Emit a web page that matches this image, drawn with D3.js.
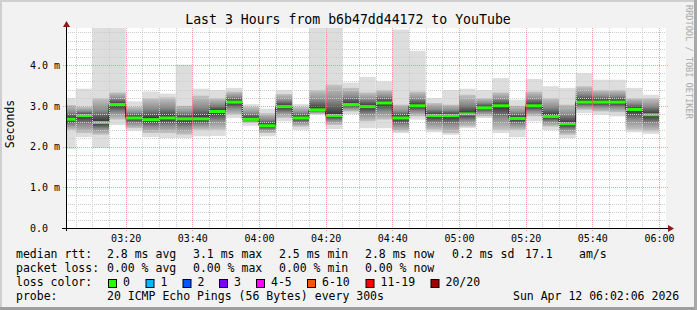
<!DOCTYPE html>
<html>
<head>
<meta charset="utf-8">
<script src="https://cdn.jsdelivr.net/npm/d3@7"></script>
<style>
  body { margin: 0; background: #f2f2f2; }
  svg text { font-family: "DejaVu Sans Mono", monospace; fill: #000; }
</style>
</head>
<body>
<div id="chart"></div>
<script>
// 5 minute bins, start time of each bin (first one is clipped by the 3h window)
var binStart = ["03:00","03:05","03:10","03:15","03:20","03:25","03:30","03:35","03:40","03:45",
  "03:50","03:55","04:00","04:05","04:10","04:15","04:20","04:25","04:30","04:35",
  "04:40","04:45","04:50","04:55","05:00","05:05","05:10","05:15","05:20","05:25",
  "05:30","05:35","05:40","05:45","05:50","05:55"];

// rtt in ms
var rttMin = [1.94,2.23,1.96,2.53,2.39,2.23,2.21,2.21,2.25,2.26,2.70,2.51,2.25,2.62,2.41,2.78,2.43,2.80,
  2.45,2.45,2.33,2.66,2.35,2.29,2.45,2.70,2.33,2.23,2.62,2.40,2.21,2.82,2.78,2.74,2.35,2.31];
var rttMax = [3.19,3.42,4.91,4.91,3.11,3.35,3.30,4.01,3.42,3.39,3.44,3.04,2.93,3.39,3.04,4.91,4.91,3.57,
  3.71,3.60,4.87,4.35,3.19,3.39,3.42,3.39,3.68,3.15,3.66,3.48,3.44,3.80,3.64,3.64,3.44,3.27];
// 2nd lowest / 2nd highest ping (where the darker smoke starts)
var smokeLo = [2.41,2.33,2.29,2.66,2.45,2.33,2.33,2.29,2.41,2.41,2.78,2.58,2.33,2.70,2.49,2.80,2.53,2.86,
  2.62,2.66,2.37,2.74,2.41,2.33,2.49,2.74,2.41,2.41,2.74,2.49,2.29,2.90,2.86,2.84,2.41,2.37];
var smokeHi = [3.02,2.97,3.19,3.33,2.97,3.19,3.21,3.00,3.25,3.19,3.35,2.97,2.82,3.29,2.97,3.39,3.52,3.44,
  3.33,3.39,3.03,3.35,3.07,3.03,3.27,3.19,3.33,3.00,3.35,3.19,3.03,3.48,3.39,3.39,3.19,3.19];
var rttMedian = [2.67,2.76,2.59,3.03,2.70,2.66,2.70,2.68,2.68,2.86,3.09,2.67,2.51,2.98,2.70,2.90,2.76,3.03,
  2.98,3.07,2.70,3.00,2.76,2.76,2.80,2.95,3.00,2.69,3.00,2.74,2.56,3.09,3.09,3.09,2.91,2.78];

var yTicks = [0, 1, 2, 3, 4];
var yTickLabels = ["0.0", "1.0 m", "2.0 m", "3.0 m", "4.0 m"];

var lossLabels = ["0", "1", "2", "3", "4-5", "6-10", "11-19", "20/20"];
var lossColors = ["#26ff00", "#00b8ff", "#0059ff", "#7e00ff", "#ff00ff", "#ff5500", "#ff0000", "#a00000"];

var svgWidth = 697;
var svgHeight = 310;
var plot = { left: 66, right: 666, top: 28, bottom: 228 };

var parseT = d3.timeParse("%Y-%m-%d %H:%M:%S");
var tStart = parseT("2026-04-12 03:02:06");
var tEnd = parseT("2026-04-12 06:02:06");

var bins = binStart.map(function(s, i) {
  var t0 = parseT("2026-04-12 " + s + ":00");
  return {
    t0: t0 < tStart ? tStart : t0,
    t1: d3.timeMinute.offset(t0, 5),
    min: rttMin[i], max: rttMax[i], lo: smokeLo[i], hi: smokeHi[i], med: rttMedian[i]
  };
});

var x = d3.scaleTime().domain([tStart, tEnd]).range([plot.left, plot.right]);
var y = d3.scaleLinear().domain([0, 4.91]).range([plot.bottom, plot.top]);

var svg = d3.select("#chart").append("svg")
  .attr("width", svgWidth)
  .attr("height", svgHeight);

// background + 3d frame
svg.append("rect").attr("width", svgWidth).attr("height", svgHeight).attr("fill", "#f2f2f2");
svg.append("rect").attr("x", 0).attr("y", 0).attr("width", svgWidth).attr("height", 2).attr("fill", "#cfcfcf");
svg.append("rect").attr("x", 0).attr("y", 0).attr("width", 2).attr("height", svgHeight).attr("fill", "#cfcfcf");
svg.append("rect").attr("x", 0).attr("y", svgHeight - 3).attr("width", svgWidth).attr("height", 3).attr("fill", "#9e9e9e");
svg.append("rect").attr("x", svgWidth - 3).attr("y", 0).attr("width", 3).attr("height", svgHeight).attr("fill", "#a8a8a8");

// canvas
svg.append("rect")
  .attr("x", plot.left).attr("y", plot.top)
  .attr("width", plot.right - plot.left).attr("height", plot.bottom - plot.top)
  .attr("fill", "#fff");

var defs = svg.append("defs");

// smoke
var smoke = svg.append("g");
smoke.selectAll("rect.outer")
  .data(bins).enter().append("rect")
  .attr("class", "outer")
  .attr("x", function(d) { return x(d.t0); })
  .attr("width", function(d) { return x(d.t1) - x(d.t0); })
  .attr("y", function(d) { return y(d.max); })
  .attr("height", function(d) { return y(d.min) - y(d.max); })
  .attr("fill", "#dddddd");

bins.forEach(function(d, i) {
  var top = y(d.hi), bot = y(d.lo), mid = y(d.med);
  var off = (mid - top) / (bot - top);
  var g = defs.append("linearGradient")
    .attr("id", "sm" + i)
    .attr("gradientUnits", "userSpaceOnUse")
    .attr("x1", 0).attr("x2", 0).attr("y1", top).attr("y2", bot);
  g.append("stop").attr("offset", 0).attr("stop-color", "#c4c4c4");
  g.append("stop").attr("offset", off * 0.5).attr("stop-color", "#8c8c8c");
  g.append("stop").attr("offset", off).attr("stop-color", "#2e2e2e");
  g.append("stop").attr("offset", off + (1 - off) * 0.5).attr("stop-color", "#8c8c8c");
  g.append("stop").attr("offset", 1).attr("stop-color", "#c4c4c4");
});

smoke.selectAll("rect.body")
  .data(bins).enter().append("rect")
  .attr("class", "body")
  .attr("x", function(d) { return x(d.t0); })
  .attr("width", function(d) { return x(d.t1) - x(d.t0); })
  .attr("y", function(d) { return y(d.hi); })
  .attr("height", function(d) { return y(d.lo) - y(d.hi); })
  .attr("fill", function(d, i) { return "url(#sm" + i + ")"; });

// median: thin dark step line + green loss band
var stepPts = bins.map(function(d) { return [d.t0, d.med]; });
stepPts.push([bins[bins.length - 1].t1, bins[bins.length - 1].med]);
svg.append("path")
  .attr("d", d3.line().curve(d3.curveStepAfter)
    .x(function(p) { return x(p[0]); })
    .y(function(p) { return y(p[1]); })(stepPts))
  .attr("fill", "none")
  .attr("stroke", "#202020")
  .attr("stroke-width", 1);

svg.append("g").selectAll("rect")
  .data(bins).enter().append("rect")
  .attr("x", function(d) { return x(d.t0); })
  .attr("width", function(d) { return x(d.t1) - x(d.t0); })
  .attr("y", function(d) { return y(d.med) - 1.5; })
  .attr("height", 3)
  .attr("fill", lossColors[0]);

// grid on top, like rrdtool
var grid = svg.append("g").attr("shape-rendering", "crispEdges");
var minorT = d3.timeMinute.every(5).range(tStart, tEnd).filter(function(t) { return t.getMinutes() % 20 !== 0; });
var majorT = d3.timeMinute.every(20).range(tStart, tEnd);
var minorY = d3.range(0.2, 4.91, 0.2).filter(function(v) { return Math.abs(v - Math.round(v)) > 0.01; });

grid.selectAll("line.vmin").data(minorT).enter().append("line")
  .attr("x1", function(t) { return Math.round(x(t)) + 0.5; })
  .attr("x2", function(t) { return Math.round(x(t)) + 0.5; })
  .attr("y1", plot.top).attr("y2", plot.bottom)
  .attr("stroke", "#cccccc").attr("stroke-dasharray", "1,1");
grid.selectAll("line.hmin").data(minorY).enter().append("line")
  .attr("x1", plot.left).attr("x2", plot.right)
  .attr("y1", function(v) { return Math.round(y(v)) + 0.5; })
  .attr("y2", function(v) { return Math.round(y(v)) + 0.5; })
  .attr("stroke", "#cccccc").attr("stroke-dasharray", "1,1");
grid.selectAll("line.vmaj").data(majorT).enter().append("line")
  .attr("x1", function(t) { return Math.round(x(t)) + 0.5; })
  .attr("x2", function(t) { return Math.round(x(t)) + 0.5; })
  .attr("y1", plot.top).attr("y2", plot.bottom + 3)
  .attr("stroke", "rgba(255,95,95,0.6)").attr("stroke-dasharray", "1,1");
grid.selectAll("line.hmaj").data(yTicks.slice(1)).enter().append("line")
  .attr("x1", plot.left - 3).attr("x2", plot.right + 2)
  .attr("y1", function(v) { return Math.round(y(v)) + 0.5; })
  .attr("y2", function(v) { return Math.round(y(v)) + 0.5; })
  .attr("stroke", "rgba(255,95,95,0.6)").attr("stroke-dasharray", "1,1");

// axes
var bottomAxis = d3.axisBottom(x)
  .ticks(d3.timeMinute.every(20))
  .tickFormat(d3.timeFormat("%H:%M"))
  .tickSize(0).tickPadding(6);
var xAxis = svg.append("g")
  .attr("transform", "translate(0," + plot.bottom + ")")
  .call(bottomAxis);
xAxis.select(".domain").remove();
xAxis.selectAll("text").attr("font-family", "DejaVu Sans Mono").attr("font-size", "10px").attr("dy", "0.75em");

var leftAxis = d3.axisLeft(y)
  .tickValues(yTicks)
  .tickFormat(function(v, i) { return yTickLabels[i]; })
  .tickSize(0);
var yAxis = svg.append("g")
  .attr("transform", "translate(" + plot.left + ",0)")
  .call(leftAxis);
yAxis.select(".domain").remove();
yAxis.selectAll("text")
  .attr("font-family", "DejaVu Sans Mono").attr("font-size", "10px")
  .attr("text-anchor", "start").attr("x", -36);

svg.append("line")
  .attr("x1", plot.left - 4).attr("x2", 668)
  .attr("y1", plot.bottom + 0.5).attr("y2", plot.bottom + 0.5)
  .attr("stroke", "#000");
svg.append("line")
  .attr("x1", plot.left + 0.5).attr("x2", plot.left + 0.5)
  .attr("y1", plot.bottom + 3).attr("y2", 25)
  .attr("stroke", "#000");
svg.append("path").attr("d", "M668,225 L674,228.5 L668,232 Z").attr("fill", "#8b1a1a");
svg.append("path").attr("d", "M63,27 L66.5,21 L70,27 Z").attr("fill", "#8b1a1a");

// title, axis label, watermark
svg.append("text")
  .attr("x", 348).attr("y", 24)
  .attr("text-anchor", "middle")
  .attr("font-size", "13.2px")
  .text("Last 3 Hours from b6b47dd44172 to YouTube");

svg.append("text")
  .attr("transform", "translate(14,124) rotate(-90)")
  .attr("text-anchor", "middle")
  .attr("font-size", "11.5px")
  .text("Seconds");

svg.append("text")
  .attr("transform", "translate(686,5) rotate(90)")
  .attr("font-size", "8.6px")
  .style("fill", "#aaaaaa")
  .text("RRDTOOL / TOBI OETIKER");

// legend
var legend = svg.append("g").attr("font-size", "11.5px");
var rows = [
  { y: 258, items: [[16, "median rtt:"], [107, "2.8 ms avg"], [193, "3.1 ms max"], [279, "2.5 ms min"],
    [365, "2.8 ms now"], [452, "0.2 ms sd"], [525, "17.1"], [579, "am/s"]] },
  { y: 272, items: [[16, "packet loss:"], [107, "0.00 % avg"], [193, "0.00 % max"], [279, "0.00 % min"],
    [365, "0.00 % now"]] },
  { y: 286, items: [[16, "loss color:"]] },
  { y: 299.5, items: [[16, "probe:"], [107, "20 ICMP Echo Pings (56 Bytes) every 300s"],
    [513, "Sun Apr 12 06:02:06 2026"]] }
];
rows.forEach(function(r) {
  legend.selectAll(null).data(r.items).enter().append("text")
    .attr("x", function(d) { return d[0]; })
    .attr("y", r.y)
    .attr("xml:space", "preserve")
    .text(function(d) { return d[1]; });
});

var boxX = [108, 145.5, 182.5, 219, 256, 307, 365.5, 430.5];
lossLabels.forEach(function(l, i) {
  legend.append("rect")
    .attr("x", boxX[i] + 0.5).attr("y", 279.5)
    .attr("width", 8).attr("height", 8)
    .attr("fill", lossColors[i]).attr("stroke", "#000");
  legend.append("text")
    .attr("x", boxX[i] + 15).attr("y", 286)
    .text(l);
});
</script>
</body>
</html>
